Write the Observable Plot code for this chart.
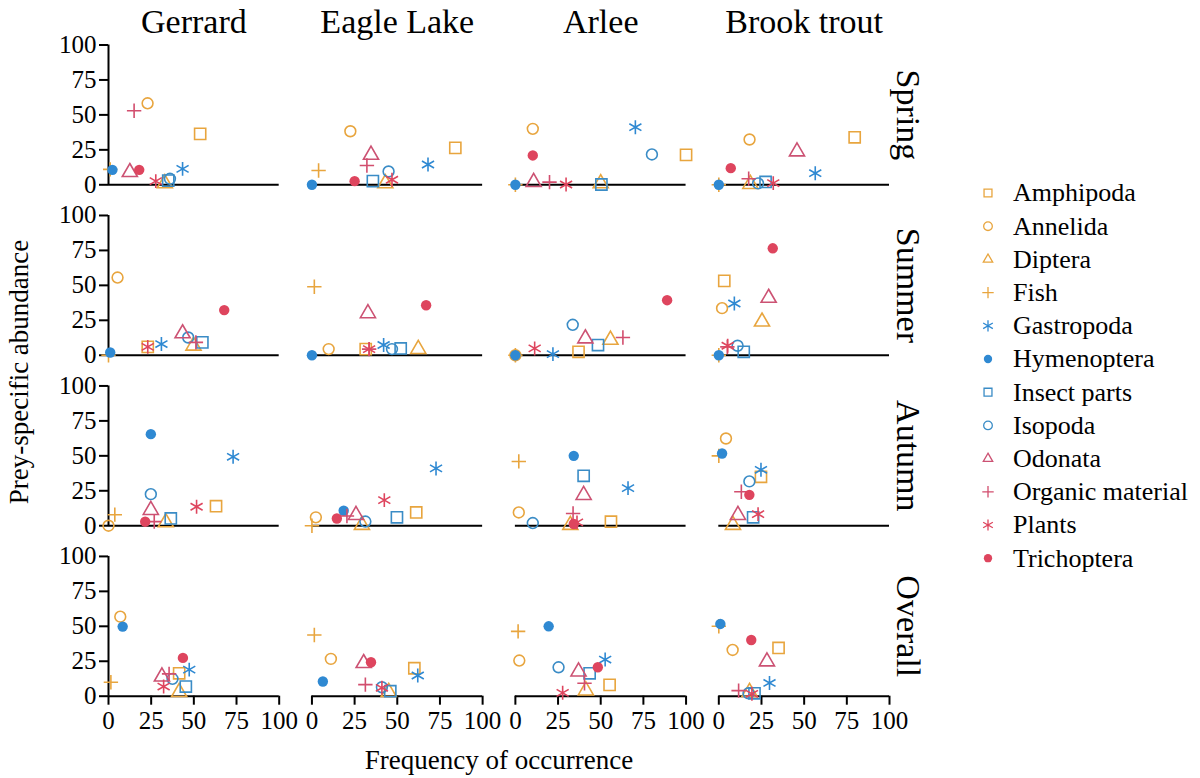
<!DOCTYPE html>
<html>
<head>
<meta charset="utf-8">
<script src="https://cdn.jsdelivr.net/npm/d3@7"></script>
<script src="https://cdn.jsdelivr.net/npm/@observablehq/plot@0.6"></script>
<style>
  body { margin: 0; background: #fff; }
  #wrap { position: relative; width: 1200px; height: 778px; overflow: hidden; }
</style>
</head>
<body>
<div id="wrap"></div>
<script>
// ---------- categories ----------
const sites = ["Gerrard", "Eagle Lake", "Arlee", "Brook trout"];
const seasons = ["Spring", "Summer", "Autumn", "Overall"];
const taxa = ["Amphipoda", "Annelida", "Diptera", "Fish", "Gastropoda", "Hymenoptera",
              "Insect parts", "Isopoda", "Odonata", "Organic material", "Plants", "Trichoptera"];
const taxonColors = ["#E8A53E", "#E8A53E", "#E8A53E", "#E8A53E",
                     "#2F89D2", "#2F89D2", "#3A8CC6", "#3A8CC6",
                     "#CC5273", "#D24E6E", "#DE455E", "#DE455E"];
const taxonSymbols = ["square", "circle", "triangle", "plus",
                      "asterisk", "circle", "square", "circle",
                      "triangle", "plus", "asterisk", "circle"];
const taxonFilled = [false, false, false, false, false, true, false, false, false, false, false, true];
const xTicks = [0, 25, 50, 75, 100];
const yTicks = [0, 25, 50, 75, 100];
const xTitle = "Frequency of occurrence";
const yTitle = "Prey-specific abundance";

// ---------- values: rows = sites (Gerrard, Eagle Lake, Arlee, Brook trout), columns = taxa ----------
// Frequency of occurrence (x)
const springFreq = [
  [53.7, 22.9, 33, 1, 43.4, 2.3, 35, 36, 12.5, 15, 27.7, 18],
  [84, 22.5, 43, 3.9, 68, 0, 35.7, 44.9, 34.6, 32.2, 46.9, 25],
  [100, 10.2, 50, 0, 70.3, 0, 50.4, 80, 10.7, 20, 29.7, 10.2],
  [79.6, 18, 18.5, 0, 56.5, 0, 27.4, 23, 45.8, 17.5, 31.9, 7]
];
const summerFreq = [
  [23, 5.3, 49.8, 0, 31, 1, 55, 46.7, 43.4, 51.2, 23, 67.8],
  [31.5, 9.8, 62.3, 1.4, 42, 0, 52, 46.9, 32.8, 33.5, 33.5, 66.9],
  [37, 0, 55.7, 0, 22, 0, 48.4, 33.6, 41, 63, 11.3, 88.9],
  [3.2, 1.9, 25.3, 0, 9.1, 0, 14.6, 11, 29.2, 5, 5.2, 31.6]
];
const autumnFreq = [
  [63, 0, 33.6, 3.7, 73, 24.8, 36.5, 24.8, 24.8, 26.8, 51.6, 21.5],
  [61.1, 2.3, 29.3, 0, 72.7, 18.6, 49.8, 31.3, 25.8, 20.5, 42.4, 14.6],
  [56, 2, 32.2, 2, 66, 34.2, 40, 10.2, 40, 33.8, 36.1, 34.2],
  [24.7, 4.2, 8.3, 0, 24.7, 1.9, 20.1, 17.9, 11.2, 13.2, 23, 17.9]
];
const overallFreq = [
  [41.4, 6.9, 41.4, 1.4, 47.3, 8.3, 45.3, 37.5, 31.3, 35.5, 32.3, 43.6],
  [60, 11.1, 45, 1.4, 62, 6.4, 45.9, 41, 30.3, 31.3, 41, 34.6],
  [55.2, 2.3, 41.3, 1.6, 52.6, 19.5, 43.5, 25.3, 37, 40.5, 27.7, 48.3],
  [35, 8.1, 18, 0, 29.7, 0.9, 20.9, 17.4, 28.2, 11.6, 19.4, 19]
];
// Prey-specific abundance (y)
const springAbund = [
  [36.4, 58.3, 1, 11, 11.4, 10.7, 3, 4.3, 9, 53, 2.6, 10.7],
  [26.4, 38.3, 1, 10.2, 14.5, 0, 2.6, 9.5, 21.4, 13.8, 3.6, 2.6],
  [21.4, 40, 1, 0, 41.2, 0, 0.2, 21.7, 1.9, 1.9, 0.2, 21],
  [34, 32.4, 0.5, 0, 8.3, 0, 2, 1, 23.8, 4.3, 1.2, 11.9]
];
const summerAbund = [
  [6, 55.6, 6.8, 0, 8, 2, 9.2, 12.7, 15.6, 9.2, 6, 32.3],
  [4.4, 4.4, 4.4, 49, 7.3, 0, 4.9, 4.4, 30, 4.4, 4.4, 35.8],
  [2.5, 0, 11, 0, 0.8, 0, 7.3, 21.8, 12, 12.7, 4.9, 39.4],
  [53.2, 33.7, 24, 0, 37, 0, 2.5, 6.8, 41, 6, 6.8, 76.5]
];
const autumnAbund = [
  [14, 0, 2.4, 7.9, 49.3, 65.5, 5.2, 22.6, 11.2, 2.9, 13.6, 2.9],
  [9.5, 6, 0.5, 0, 41, 10.7, 6, 3, 7.6, 7, 18.3, 5.2],
  [2.9, 9.5, 0.5, 46, 26.9, 50, 35.7, 1.9, 21.9, 8.8, 2.4, 1.2],
  [35, 62.4, 0.5, 50, 40, 51.7, 6, 31.7, 7.6, 24.3, 8.3, 22.1]
];
const overallAbund = [
  [16.4, 56.9, 2.9, 10, 19, 49.8, 6.9, 12.4, 14, 16, 6.9, 27.4],
  [20, 26.7, 2.9, 43.8, 14.8, 10.5, 3.6, 6.4, 23.6, 8.3, 6, 24.3],
  [8.1, 25.5, 4, 46.4, 26.2, 50, 16.4, 20.7, 17.6, 9.3, 2.4, 20.7],
  [34.5, 33.1, 3, 50, 9.5, 51.7, 2.1, 2.1, 24.8, 4, 1.7, 40.2]
];

// ---------- build table ----------
const freqBySeason = [springFreq, summerFreq, autumnFreq, overallFreq];
const abundBySeason = [springAbund, summerAbund, autumnAbund, overallAbund];
const rows = [];
seasons.forEach((season, si) => {
  sites.forEach((site, ki) => {
    taxa.forEach((taxon, ti) => {
      rows.push({season, site, taxon, freq: freqBySeason[si][ki][ti], abund: abundBySeason[si][ki][ti]});
    });
  });
});

const FONT = "'Liberation Serif', 'Times New Roman', serif";
// marker radii per symbol (visual style)
const symbolR = {square: 6.3, circle: 5.4, triangle: 5.6, plus: 4.7, asterisk: 6.6, filled: 5.2};
const rFor = (i) => taxonFilled[i] ? symbolR.filled : symbolR[taxonSymbols[i]];

const taxonMarks = taxa.map((t, i) => Plot.dot(rows.filter(d => d.taxon === t), {
  x: "freq", y: "abund", fx: "site", fy: "season",
  symbol: taxonSymbols[i], r: rFor(i),
  fill: taxonFilled[i] ? taxonColors[i] : "none",
  stroke: taxonFilled[i] ? "none" : taxonColors[i],
  strokeWidth: 1.6
}));

const chart = Plot.plot({
  width: 1200,
  height: 778,
  marginLeft: 108,
  marginRight: 311,
  marginTop: 44.5,
  marginBottom: 82.3,
  style: {fontFamily: FONT, background: "white", color: "black"},
  fx: {domain: sites, paddingInner: 0.161, paddingOuter: 0, round: false, axis: null},
  fy: {domain: seasons, paddingInner: 0.18, paddingOuter: 0, round: false, axis: null},
  x: {domain: [0, 100]},
  y: {domain: [0, 100]},
  marks: [
    Plot.ruleY([0], {stroke: "black", strokeWidth: 2}),
    Plot.ruleX(seasons.map(s => ({site: sites[0], season: s})), {
      x: () => 0, y1: () => 0, y2: () => 100, fx: "site", fy: "season", stroke: "black", strokeWidth: 2
    }),
    Plot.axisY({facetAnchor: "left", ticks: yTicks, tickSize: 9, tickPadding: 3, fontSize: 25,
                label: null, strokeWidth: 2, stroke: "black"}),
    Plot.axisX({facetAnchor: "bottom", ticks: xTicks, tickSize: 9, tickPadding: 6, fontSize: 25,
                label: null, strokeWidth: 2, stroke: "black"}),
    ...taxonMarks,
    Plot.text(sites, {fx: d => d, fy: () => seasons[0], text: d => d, frameAnchor: "top",
                      textAnchor: "middle", lineAnchor: "middle",
                      dy: -23, fontSize: 34, fill: "black"}),
    Plot.text(seasons, {fy: d => d, fx: () => sites[sites.length - 1], text: d => d, frameAnchor: "right",
                        textAnchor: "middle", lineAnchor: "middle",
                        dx: 18, rotate: 90, fontSize: 34, fill: "black"})
  ]
});
document.getElementById("wrap").appendChild(chart);

// ---------- axis titles and legend (SVG text inside the plot's SVG) ----------
const svg = d3.select(chart);
svg.append("text")
  .attr("transform", "translate(19,372) rotate(-90)")
  .attr("text-anchor", "middle").attr("dy", "0.32em")
  .attr("font-size", 27).attr("fill", "black")
  .text(yTitle);
svg.append("text")
  .attr("x", 499).attr("y", 760)
  .attr("text-anchor", "middle").attr("dy", "0.32em")
  .attr("font-size", 27).attr("fill", "black")
  .text(xTitle);

const d3Sym = {square: d3.symbolSquare2, circle: d3.symbolCircle, triangle: d3.symbolTriangle2,
               plus: d3.symbolPlus, asterisk: d3.symbolAsterisk};
const legend = svg.append("g").attr("transform", "translate(988,193)");
taxa.forEach((t, i) => {
  const g = legend.append("g").attr("transform", `translate(0,${i * 33.2})`);
  const rr = rFor(i) * 0.8;
  g.append("path")
    .attr("d", d3.symbol(d3Sym[taxonSymbols[i]], Math.PI * rr * rr)())
    .attr("fill", taxonFilled[i] ? taxonColors[i] : "none")
    .attr("stroke", taxonFilled[i] ? "none" : taxonColors[i])
    .attr("stroke-width", 1.3);
  g.append("text")
    .attr("x", 25).attr("dy", "0.32em")
    .attr("text-anchor", "start")
    .attr("font-size", 26).attr("fill", "black")
    .text(t);
});

// make every text element use the serif face
svg.selectAll("text").style("font-family", FONT);
</script>
</body>
</html>
